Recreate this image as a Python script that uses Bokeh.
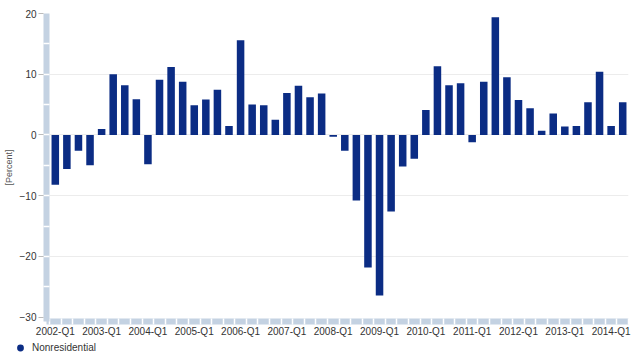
from bokeh.plotting import figure
from bokeh.layouts import column, row
from bokeh.models import (Range1d, LinearAxis, FixedTicker, Grid, Legend, LegendItem,
                          CustomJSTickFormatter, ColumnDataSource)
from bokeh.embed import file_html
from bokeh.resources import INLINE

# ---- data ----
quarters = [f"{y}-Q{q}" for y in range(2002, 2015) for q in range(1, 5)][:50]
values = [-8.2, -5.6, -2.6, -5.0,
          1.0, 10.0, 8.2, 5.9,
          -4.8, 9.1, 11.2, 8.75,
          4.9, 5.85, 7.45, 1.5,
          15.6, 5.0, 4.9, 2.5,
          6.9, 8.1, 6.2, 6.85,
          -0.3, -2.6, -10.8, -21.8,
          -26.4, -12.6, -5.2, -3.9,
          4.1, 11.3, 8.2, 8.5,
          -1.2, 8.75, 19.4, 9.5,
          5.75, 4.4, 0.7, 3.55,
          1.4, 1.5, 5.4, 10.4,
          1.5, 5.4]
x_tick_labels = ["2002-Q1", "2003-Q1", "2004-Q1", "2005-Q1", "2006-Q1", "2007-Q1",
                 "2008-Q1", "2009-Q1", "2010-Q1", "2011-Q1", "2012-Q1", "2013-Q1",
                 "2014-Q1"]
y_ticks = [-30, -20, -10, 0, 10, 20]
series_name = "Nonresidential"

BAR = "#0b2c84"
BAND = "#c4d2e2"
FONT = "Liberation Sans"

idx = list(range(len(quarters)))
src = ColumnDataSource(dict(x=idx, top=values, q=quarters))

p = figure(width=635, height=339,
           x_range=Range1d(-0.76, 49.5), y_range=Range1d(-30.7, 20),
           x_axis_type=None, y_axis_type=None,
           output_backend="svg", toolbar_location=None,
           min_border_left=46, min_border_right=7, min_border_top=13, min_border_bottom=17)
p.outline_line_color = None
p.background_fill_color = "white"

grid = Grid(dimension=1, ticker=FixedTicker(ticks=[-20, -10, 0, 10, 20]),
            grid_line_color="#ececec", grid_line_width=1)
p.add_layout(grid, "center")

p.vbar(x="x", top="top", bottom=0, width=0.65, source=src,
       fill_color=BAR, line_color=None)

empty = CustomJSTickFormatter(code="return ''")

# y band axis
ya = LinearAxis(ticker=FixedTicker(ticks=[-25, -20, -15, -10, -5, 0, 5, 10, 15]),
                formatter=empty,
                axis_line_color=BAND, axis_line_width=6,
                major_tick_line_color="white", major_tick_line_width=1.5,
                major_tick_in=3, major_tick_out=3,
                minor_tick_line_color=None,
                major_label_standoff=0, major_label_text_font_size="0px")
# y label axis
yb = LinearAxis(ticker=FixedTicker(ticks=y_ticks),
                axis_line_color=None,
                major_tick_line_color="#bbbbbb", major_tick_line_width=1,
                major_tick_in=0, major_tick_out=5,
                minor_tick_line_color=None,
                major_label_standoff=2,
                major_label_text_font=FONT, major_label_text_font_size="10px",
                major_label_text_color="#333333",
                axis_label="[Percent]", axis_label_text_font=FONT,
                axis_label_text_font_size="9px", axis_label_text_font_style="normal",
                axis_label_text_color="#555555", axis_label_standoff=3)
p.add_layout(ya, "left")
p.add_layout(yb, "left")

# x band axis
xa = LinearAxis(ticker=FixedTicker(ticks=[i - 0.5 for i in range(len(quarters) + 1)]),
                formatter=empty,
                axis_line_color=BAND, axis_line_width=6,
                major_tick_line_color="white", major_tick_line_width=1.5,
                major_tick_in=3, major_tick_out=3,
                minor_tick_line_color=None,
                major_label_standoff=0, major_label_text_font_size="0px")
# x label axis
tick_pos = [quarters.index(lbl) for lbl in x_tick_labels]
xb = LinearAxis(ticker=FixedTicker(ticks=tick_pos),
                major_label_overrides={pos: lbl for pos, lbl in zip(tick_pos, x_tick_labels)},
                axis_line_color=None,
                major_tick_line_color=None, major_tick_in=0, major_tick_out=0,
                minor_tick_line_color=None,
                major_label_standoff=1,
                major_label_text_font=FONT, major_label_text_font_size="10px",
                major_label_text_color="#333333")
p.add_layout(xa, "below")
p.add_layout(xb, "below")

# legend strip below the chart
pl = figure(width=635, height=17, x_range=Range1d(0, 1), y_range=Range1d(0, 1),
            x_axis_type=None, y_axis_type=None,
            output_backend="svg", toolbar_location=None,
            min_border_left=0, min_border_right=0, min_border_top=0, min_border_bottom=0)
pl.outline_line_color = None
leg_r = pl.scatter(x=[float("nan")], y=[float("nan")], size=8,
                   fill_color=BAR, line_color=None)
legend = Legend(items=[LegendItem(label=series_name, renderers=[leg_r])],
                location=(11, 0), orientation="horizontal",
                glyph_width=18, glyph_height=17, label_height=17, label_standoff=3,
                label_text_font=FONT, label_text_font_size="10px",
                label_text_color="#333333",
                padding=0, margin=0, border_line_color=None,
                background_fill_alpha=0)
pl.add_layout(legend, "center")

layout = column(p, row(pl, spacing=0), spacing=0)
open("out.html", "w").write(file_html(layout, INLINE))
